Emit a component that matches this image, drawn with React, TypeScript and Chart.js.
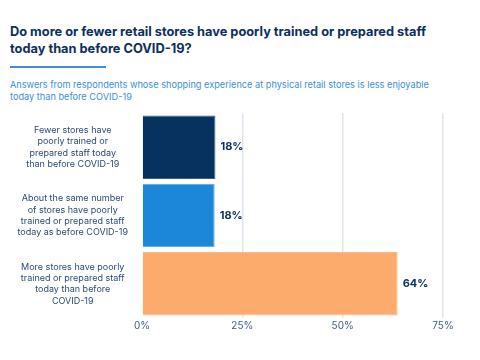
import React, { useEffect, useRef } from "react";
import { Chart, registerables } from "chart.js";

Chart.register(...registerables);

const titleText = "Do more or fewer retail stores have poorly trained or prepared staff today than before COVID-19?";
const subtitleText = "Answers from respondents whose shopping experience at physical retail stores is less enjoyable today than before COVID-19";

const categories: string[][] = [
  ["Fewer stores have", "poorly trained or", "prepared staff today", "than before COVID-19"],
  ["About the same number", "of stores have poorly", "trained or prepared staff", "today as before COVID-19"],
  ["More stores have poorly", "trained or prepared staff", "today than before", "COVID-19"],
];
const values = [18.3, 18.1, 63.7];
const valueLabels = ["18%", "18%", "64%"];
const barColors = ["#07325f", "#1b87d6", "#fdab6d"];
const barBorders = ["#3d5f86", "#5aa6e2", "#fdb985"];
const xTicks = [0, 25, 50, 75];

const FONT = "Inter, 'Noto Sans', sans-serif";

const valueLabelPlugin = {
  id: "valueLabels",
  afterDatasetsDraw(chart: any) {
    const ctx = chart.ctx;
    const meta = chart.getDatasetMeta(0);
    ctx.save();
    ctx.font = `bold 11px ${FONT}`;
    ctx.fillStyle = "#0d2f5f";
    ctx.textAlign = "left";
    ctx.textBaseline = "middle";
    meta.data.forEach((bar: any, i: number) => {
      ctx.fillText(valueLabels[i], bar.x + 5, bar.y);
    });
    ctx.restore();
  },
};

export default function App() {
  const canvasRef = useRef<HTMLCanvasElement | null>(null);

  useEffect(() => {
    if (!canvasRef.current) return;
    const chart = new Chart(canvasRef.current, {
      type: "bar",
      data: {
        labels: categories,
        datasets: [
          {
            data: values,
            backgroundColor: barColors,
            borderColor: barBorders,
            borderWidth: 1,
            barPercentage: 0.93,
            categoryPercentage: 1,
          },
        ],
      },
      options: {
        indexAxis: "y",
        animation: false,
        responsive: false,
        maintainAspectRatio: false,
        layout: { padding: { top: 8, right: 37, bottom: 11, left: 0 } },
        plugins: {
          legend: { display: false },
          tooltip: { enabled: false },
        },
        scales: {
          x: {
            min: 0,
            max: 75,
            afterBuildTicks(scale: any) {
              scale.ticks = xTicks.map((v) => ({ value: v }));
            },
            border: { display: false },
            grid: {
              drawTicks: false,
              lineWidth: 1.5,
              color: (c: any) => (c.tick && c.tick.value === 0 ? "rgba(0,0,0,0)" : "#dfe5ed"),
            },
            ticks: {
              padding: 2,
              color: "#3f5f87",
              font: { family: FONT, size: 10 },
              callback: (v: any) => `${v}%`,
            },
          },
          y: {
            border: { display: false },
            grid: { display: false, drawTicks: false },
            afterFit(scale: any) {
              scale.width = 142;
              scale.paddingTop = 0;
              scale.paddingBottom = 0;
            },
            ticks: {
              crossAlign: "center",
              padding: 14,
              color: "#2b4a75",
              font: { family: FONT, size: 9, lineHeight: 1.26 },
            },
          },
        },
      },
      plugins: [valueLabelPlugin],
    } as any);
    return () => chart.destroy();
  }, []);

  return (
    <div style={{ position: "fixed", left: 0, top: 0, width: 480, height: 360, background: "#fff", fontFamily: FONT }}>
      <div
        style={{
          position: "absolute",
          left: 10,
          top: 23,
          width: 425,
          fontSize: 12.8,
          fontWeight: 700,
          lineHeight: "17px",
          color: "#0d2f5f",
        }}
      >
        {titleText}
      </div>
      <div style={{ position: "absolute", left: 10, top: 66, width: 96, height: 2, background: "#3d8fe0" }} />
      <div
        style={{
          position: "absolute",
          left: 10,
          top: 79,
          width: 430,
          fontSize: 9.2,
          lineHeight: "12px",
          color: "#3a8fd8",
        }}
      >
        {subtitleText}
      </div>
      <canvas ref={canvasRef} width={480} height={240} style={{ position: "absolute", left: 0, top: 105 }} />
    </div>
  );
}
